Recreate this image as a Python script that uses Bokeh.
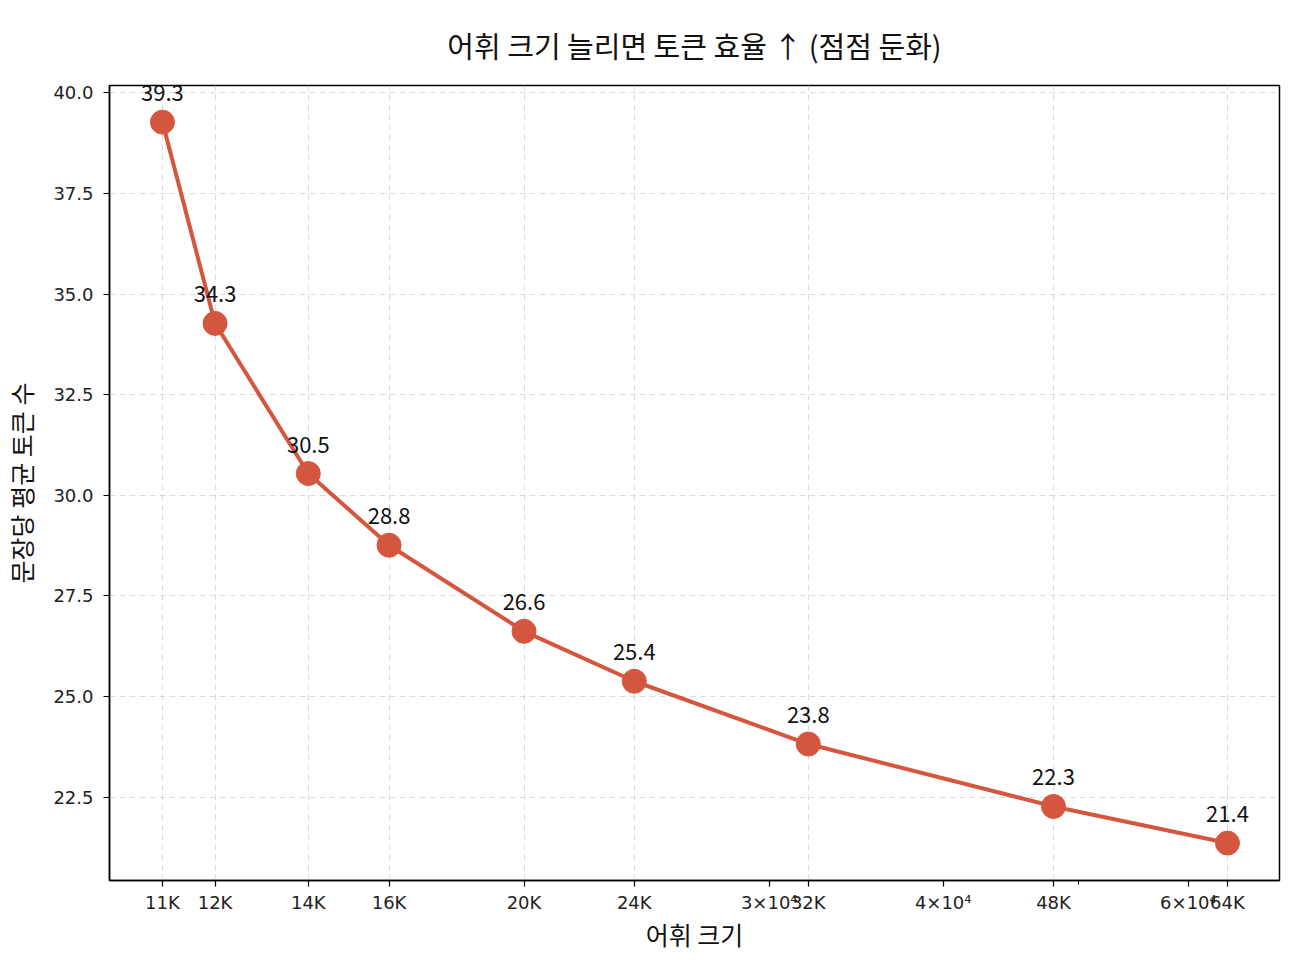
from bokeh.plotting import figure
from bokeh.models import FixedTicker, Range1d, ColumnDataSource
from bokeh.core.properties import value
from bokeh.embed import file_html
from bokeh.resources import INLINE

vocab_sizes = [11000, 12000, 14000, 16000, 20000, 24000, 32000, 48000, 64000]
avg_tokens = [39.27, 34.27, 30.54, 28.76, 26.62, 25.38, 23.82, 22.27, 21.36]
major_labels = ["11K", "12K", "14K", "16K", "20K", "24K", "32K", "48K", "64K"]
minor_label_ticks = [30000, 40000, 60000]
minor_label_text = ["3×10⁴", "4×10⁴", "6×10⁴"]
minor_ticks = [30000, 40000, 50000, 60000]
y_ticks = [22.5, 25.0, 27.5, 30.0, 32.5, 35.0, 37.5, 40.0]

FONT = "Noto Sans CJK KR"
TICKFONT = "DejaVu Sans"
RED = "#D5563F"

p = figure(width=1290, height=956, x_axis_type="log",
           x_range=Range1d(10078, 69750), y_range=Range1d(20.43, 40.18),
           output_backend="svg", toolbar_location=None,
           title="어휘 크기 늘리면 토큰 효율 ↑ (점점 둔화)")
p.min_border_left = 108
p.min_border_right = 11
p.min_border_top = 85
p.min_border_bottom = 76

p.title.align = "center"
p.title.text_font = FONT
p.title.text_font_size = "29px"
p.title.text_font_style = "normal"
p.title.text_color = "#111111"
p.title.standoff = 40

p.outline_line_color = "black"
p.outline_line_width = 1.5
p.outline_line_alpha = 1.0

overrides = {}
for t, l in zip(vocab_sizes, major_labels):
    overrides[t] = l
for t, l in zip(minor_label_ticks, minor_label_text):
    overrides[t] = l

xa = p.xaxis[0]
xa.ticker = FixedTicker(ticks=vocab_sizes + minor_label_ticks, minor_ticks=minor_ticks)
xa.major_label_overrides = overrides
xa.axis_label = "어휘 크기"
ya = p.yaxis[0]
ya.ticker = FixedTicker(ticks=y_ticks)
ya.major_label_overrides = {t: f"{t:.1f}" for t in y_ticks}
ya.axis_label = "문장당 평균 토큰 수"

for ax in (xa, ya):
    ax.axis_label_text_font = FONT
    ax.axis_label_text_font_size = "25px"
    ax.axis_label_text_font_style = "normal"
    ax.axis_label_text_color = "#111111"
    ax.major_label_text_font = TICKFONT
    ax.major_label_text_font_size = "18px"
    ax.major_label_text_color = "#222222"
    ax.axis_line_color = "black"
    ax.axis_line_width = 1.5
    ax.major_tick_line_color = "black"
    ax.major_tick_line_width = 1.2
    ax.major_tick_out = 6
    ax.major_tick_in = 0
    ax.minor_tick_line_color = "black"
    ax.minor_tick_line_width = 1
    ax.minor_tick_out = 4
    ax.minor_tick_in = 0
ya.minor_tick_line_color = None
xa.major_label_standoff = 5
ya.major_label_standoff = 10
xa.axis_label_standoff = 0
ya.axis_label_standoff = 11

p.xgrid.ticker = FixedTicker(ticks=vocab_sizes)
p.ygrid.ticker = FixedTicker(ticks=y_ticks)
for g in (p.xgrid, p.ygrid):
    g.grid_line_color = "#cccccc"
    g.grid_line_alpha = 0.7
    g.grid_line_dash = "6 4"
    g.grid_line_width = 1

src = ColumnDataSource(dict(x=vocab_sizes, y=avg_tokens,
                            label=[f"{v:.1f}" for v in avg_tokens]))
p.line("x", "y", source=src, line_color=RED, line_width=4)
p.scatter("x", "y", source=src, size=24, fill_color=RED, line_color=RED)
p.text("x", "y", text="label", source=src, text_align="center",
       text_baseline="alphabetic", y_offset=-29,
       text_font=value(FONT), text_font_size="22px", text_color="#111111")

open("out.html", "w").write(file_html(p, INLINE))
